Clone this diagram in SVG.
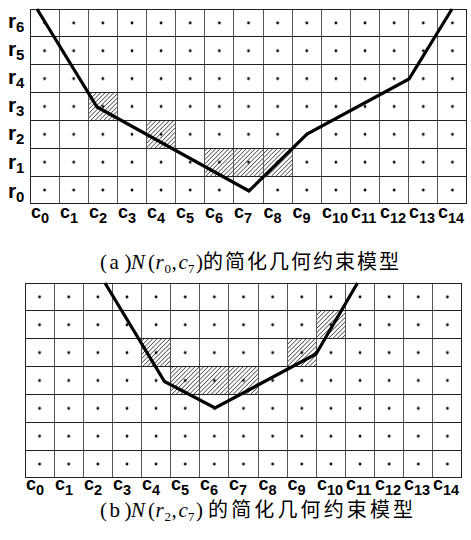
<svg xmlns="http://www.w3.org/2000/svg" width="471" height="540" viewBox="0 0 471 540">
<style>
.bg{fill:#fff}
.hatch{fill:url(#hatch)}
.vl{stroke:#555;stroke-width:1;fill:none}
.hl{stroke:#222;stroke-width:1;fill:none}
.border{stroke:#222;stroke-width:1;fill:none}
.curve{stroke:#000;stroke-width:3.2;fill:none;stroke-linejoin:miter}
.lab{font-family:"Liberation Sans",Arial,sans-serif;font-weight:bold;fill:#000}
.rl{font-size:21px}
.cl{font-size:18px}
.sub{font-size:14.5px}
.rsub{font-size:15px}
.cap{font-family:"Liberation Serif","Times New Roman",serif;font-size:21px;fill:#000}
.it{font-style:italic}
.cs{font-size:13px}
.cjk{font-family:"Liberation Serif","Noto Sans CJK SC",serif;font-size:20px;fill:#000}
</style>
<defs>
<pattern id="hatch" patternUnits="userSpaceOnUse" width="3.1" height="3.1" patternTransform="rotate(45)">
<line x1="0" y1="0" x2="0" y2="3.1" stroke="#000" stroke-width="1.1"/>
</pattern>
<pattern id="dotsA" patternUnits="userSpaceOnUse" x="30" y="9" width="29.1333" height="27.857">
<circle cx="14.57" cy="13.93" r="1.4" fill="#000"/>
</pattern>
<pattern id="dotsB" patternUnits="userSpaceOnUse" x="25" y="283" width="29.1333" height="27.857">
<circle cx="14.57" cy="13.93" r="1.4" fill="#000"/>
</pattern>
</defs>
<rect class="bg" x="0" y="0" width="471" height="540"/>

<g id="panel-a">
<g id="hatch-a">
<rect class="hatch" x="88.5" y="92.5" width="29" height="28"/>
<rect class="hatch" x="146.5" y="120.5" width="29" height="28"/>
<rect class="hatch" x="204.5" y="148.5" width="88" height="28"/>
</g>
<rect x="30" y="9" width="437" height="195" fill="url(#dotsA)"/>
<g id="grid-a">
<path class="vl" d="M59.5 9V204M88.5 9V204M117.5 9V204M146.5 9V204M175.5 9V204M204.5 9V204M233.5 9V204M263.5 9V204M292.5 9V204M321.5 9V204M350.5 9V204M379.5 9V204M408.5 9V204M437.5 9V204"/>
<path class="hl" d="M30 36.5H467M30 64.5H467M30 92.5H467M30 120.5H467M30 148.5H467M30 176.5H467"/>
<rect class="border" x="30.5" y="9.5" width="436" height="194"/>
</g>
<g id="connectors-a">
<polyline class="curve" points="37,9 97,107 249,191 307,134 409,79 452,9"/>
</g>
<g id="row-labels-a" class="lab">
<text class="rl" x="8" y="28">r<tspan class="rsub" x="16" y="32">6</tspan></text>
<text class="rl" x="8" y="56">r<tspan class="rsub" x="16" y="60">5</tspan></text>
<text class="rl" x="8" y="84">r<tspan class="rsub" x="16" y="88">4</tspan></text>
<text class="rl" x="8" y="112">r<tspan class="rsub" x="16" y="116">3</tspan></text>
<text class="rl" x="8" y="140">r<tspan class="rsub" x="16" y="144">2</tspan></text>
<text class="rl" x="8" y="168.5">r<tspan class="rsub" x="16" y="172.5">1</tspan></text>
<text class="rl" x="8" y="198">r<tspan class="rsub" x="16" y="202">0</tspan></text>
</g>
<g id="col-labels-a" class="lab cl">
<text x="31" y="218">c<tspan class="sub" dy="5">0</tspan></text>
<text x="60" y="218">c<tspan class="sub" dy="5">1</tspan></text>
<text x="89" y="218">c<tspan class="sub" dy="5">2</tspan></text>
<text x="118" y="218">c<tspan class="sub" dy="5">3</tspan></text>
<text x="147" y="218">c<tspan class="sub" dy="5">4</tspan></text>
<text x="176" y="218">c<tspan class="sub" dy="5">5</tspan></text>
<text x="205" y="218">c<tspan class="sub" dy="5">6</tspan></text>
<text x="234" y="218">c<tspan class="sub" dy="5">7</tspan></text>
<text x="263.5" y="218">c<tspan class="sub" dy="5">8</tspan></text>
<text x="292.5" y="218">c<tspan class="sub" dy="5">9</tspan></text>
<text x="322" y="218">c<tspan class="sub" dy="5">10</tspan></text>
<text x="351" y="218">c<tspan class="sub" dy="5">11</tspan></text>
<text x="380" y="218">c<tspan class="sub" dy="5">12</tspan></text>
<text x="409" y="218">c<tspan class="sub" dy="5">13</tspan></text>
<text x="438" y="218">c<tspan class="sub" dy="5">14</tspan></text>
</g>
<g id="caption-a">
<text class="cap"><tspan x="100" y="269">(</tspan><tspan x="109.5" y="269">a</tspan><tspan x="124.5" y="269">)</tspan><tspan class="it" x="131" y="269">N</tspan><tspan x="148" y="269">(</tspan><tspan class="it" x="155.5" y="269">r</tspan><tspan class="cs" x="164.5" y="272.5">0</tspan><tspan x="171.5" y="269">,</tspan><tspan class="it" x="178.5" y="269">c</tspan><tspan class="cs" x="188" y="272.5">7</tspan><tspan x="196" y="269">)</tspan></text>
<text class="cjk" x="203" y="269" textLength="196" lengthAdjust="spacing">的简化几何约束模型</text>
</g>
</g>

<g id="panel-b">
<g id="hatch-b">
<rect class="hatch" x="141.5" y="338.5" width="29" height="28"/>
<rect class="hatch" x="170.5" y="366.5" width="88" height="28"/>
<rect class="hatch" x="287.5" y="338.5" width="29" height="28"/>
<rect class="hatch" x="316.5" y="310.5" width="29" height="28"/>
</g>
<rect x="25" y="283" width="437" height="195" fill="url(#dotsB)"/>
<g id="grid-b">
<path class="vl" d="M54.5 283V478M83.5 283V478M112.5 283V478M141.5 283V478M170.5 283V478M199.5 283V478M228.5 283V478M258.5 283V478M287.5 283V478M316.5 283V478M345.5 283V478M374.5 283V478M403.5 283V478M432.5 283V478"/>
<path class="hl" d="M25 310.5H462M25 338.5H462M25 366.5H462M25 394.5H462M25 422.5H462M25 450.5H462"/>
<rect class="border" x="25.5" y="283.5" width="436" height="194"/>
</g>
<g id="connectors-b">
<polyline class="curve" points="105,283 164.5,381.5 215,408 316,354 357.5,283"/>
</g>
<g id="col-labels-b" class="lab cl">
<text x="26" y="490">c<tspan class="sub" dy="5">0</tspan></text>
<text x="55" y="490">c<tspan class="sub" dy="5">1</tspan></text>
<text x="84" y="490">c<tspan class="sub" dy="5">2</tspan></text>
<text x="113" y="490">c<tspan class="sub" dy="5">3</tspan></text>
<text x="142" y="490">c<tspan class="sub" dy="5">4</tspan></text>
<text x="171" y="490">c<tspan class="sub" dy="5">5</tspan></text>
<text x="200" y="490">c<tspan class="sub" dy="5">6</tspan></text>
<text x="229" y="490">c<tspan class="sub" dy="5">7</tspan></text>
<text x="258.5" y="490">c<tspan class="sub" dy="5">8</tspan></text>
<text x="287.5" y="490">c<tspan class="sub" dy="5">9</tspan></text>
<text x="317" y="490">c<tspan class="sub" dy="5">10</tspan></text>
<text x="346" y="490">c<tspan class="sub" dy="5">11</tspan></text>
<text x="375" y="490">c<tspan class="sub" dy="5">12</tspan></text>
<text x="404" y="490">c<tspan class="sub" dy="5">13</tspan></text>
<text x="433" y="490">c<tspan class="sub" dy="5">14</tspan></text>
</g>
<g id="caption-b">
<text class="cap"><tspan x="100" y="517">(</tspan><tspan x="109.5" y="517">b</tspan><tspan x="124.5" y="517">)</tspan><tspan class="it" x="131" y="517">N</tspan><tspan x="148" y="517">(</tspan><tspan class="it" x="155.5" y="517">r</tspan><tspan class="cs" x="164.5" y="520.5">2</tspan><tspan x="171.5" y="517">,</tspan><tspan class="it" x="178.5" y="517">c</tspan><tspan class="cs" x="188" y="520.5">7</tspan><tspan x="196" y="517">)</tspan></text>
<text class="cjk" x="208" y="517" textLength="205" lengthAdjust="spacing">的简化几何约束模型</text>
</g>
</g>
</svg>
